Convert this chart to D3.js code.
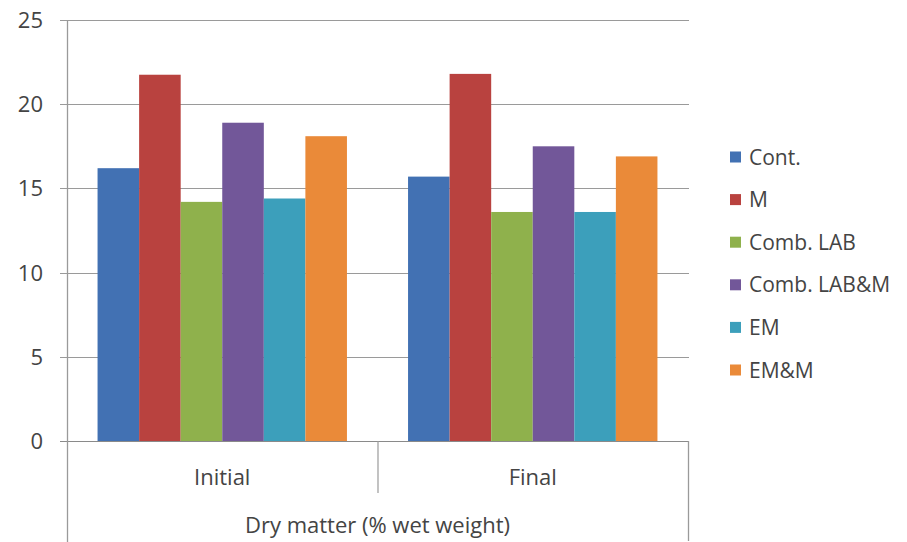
<!DOCTYPE html>
<html>
<head>
<meta charset="utf-8">
<script src="https://cdn.jsdelivr.net/npm/d3@7"></script>
<style>
  html, body { margin: 0; padding: 0; background: #fff; }
  svg { display: block; }
  text { font-family: "Open Sans", "Liberation Sans", sans-serif; fill: #444; }
</style>
</head>
<body>
<script>
// Dry matter content per treatment, at start and end of the trial
const groups = ["Initial", "Final"];
const series = ["Cont.", "M", "Comb. LAB", "Comb. LAB&M", "EM", "EM&M"];
const initialValues = [16.2, 21.75, 14.2, 18.9, 14.4, 18.1];
const finalValues = [15.7, 21.8, 13.6, 17.5, 13.6, 16.9];
const yTicks = [0, 5, 10, 15, 20, 25];
const colors = ["#4271b3", "#b9423f", "#8fb14c", "#725799", "#3c9fbb", "#ea8a39"];
const axisTitle = "Dry matter (% wet weight)";

const valuesByGroup = { "Initial": initialValues, "Final": finalValues };

const W = 907, H = 542;
const plot = { left: 67, right: 688, top: 20, bottom: 441 };
const fontSize = 22;

const svg = d3.select("body").append("svg").attr("width", W).attr("height", H);

const y = d3.scaleLinear().domain([0, 25]).range([plot.bottom, plot.top]);
const x0 = d3.scaleBand().domain(groups).range([plot.left, plot.right]).paddingInner(0).paddingOuter(0);
const x1 = d3.scaleBand().domain(series).range([0, x0.bandwidth()]).paddingInner(0).paddingOuter(0.735);

// horizontal gridlines with small tick marks on the left
svg.append("g").selectAll("line").data(yTicks).join("line")
  .attr("x1", plot.left - 7).attr("x2", plot.right + 1)
  .attr("y1", d => Math.round(y(d)) + 0.5).attr("y2", d => Math.round(y(d)) + 0.5)
  .attr("stroke", d => d === 0 ? "#8a8a8a" : "#9a9a9a").attr("stroke-width", 1.2);

// y tick labels
svg.append("g").selectAll("text").data(yTicks).join("text")
  .attr("x", 43).attr("y", d => y(d)).attr("dy", "0.36em")
  .attr("text-anchor", "end").attr("font-size", fontSize).text(d => d);

// bars
const gGroups = svg.append("g").selectAll("g").data(groups).join("g")
  .attr("transform", d => `translate(${x0(d)},0)`);
gGroups.selectAll("rect").data(g => valuesByGroup[g].map((v, i) => ({ s: series[i], v, i })))
  .join("rect")
  .attr("x", d => x1(d.s)).attr("width", x1.bandwidth())
  .attr("y", d => y(d.v)).attr("height", d => y(0) - y(d.v))
  .attr("fill", d => colors[d.i]);

// axis lines: vertical value axis and the multi-level category frame
const axisColor = "#9a9a9a";
svg.append("line").attr("x1", plot.left + 0.5).attr("x2", plot.left + 0.5)
  .attr("y1", plot.top).attr("y2", H).attr("stroke", axisColor).attr("stroke-width", 1.3);
svg.append("line").attr("x1", plot.right + 0.5).attr("x2", plot.right + 0.5)
  .attr("y1", plot.bottom).attr("y2", H - 1).attr("stroke", axisColor).attr("stroke-width", 1.3);
svg.append("line").attr("x1", x0("Final") + 0.5).attr("x2", x0("Final") + 0.5)
  .attr("y1", plot.bottom).attr("y2", 493).attr("stroke", axisColor).attr("stroke-width", 1.2);

// category labels
svg.append("g").selectAll("text").data(groups).join("text")
  .attr("x", d => x0(d) + x0.bandwidth() / 2).attr("y", 477).attr("dy", "0.36em")
  .attr("text-anchor", "middle").attr("font-size", fontSize).text(d => d);

svg.append("text").attr("x", (plot.left + plot.right) / 2).attr("y", 525).attr("dy", "0.36em")
  .attr("text-anchor", "middle").attr("font-size", fontSize).text(axisTitle);

// legend
const legend = svg.append("g").selectAll("g").data(series).join("g")
  .attr("transform", (d, i) => `translate(730,${157 + i * 42.6})`);
legend.append("rect").attr("x", 0).attr("y", -5.5).attr("width", 11).attr("height", 11)
  .attr("fill", (d, i) => colors[i]);
legend.append("text").attr("x", 19).attr("y", 0).attr("dy", "0.36em")
  .attr("font-size", 21).text(d => d);
</script>
</body>
</html>
